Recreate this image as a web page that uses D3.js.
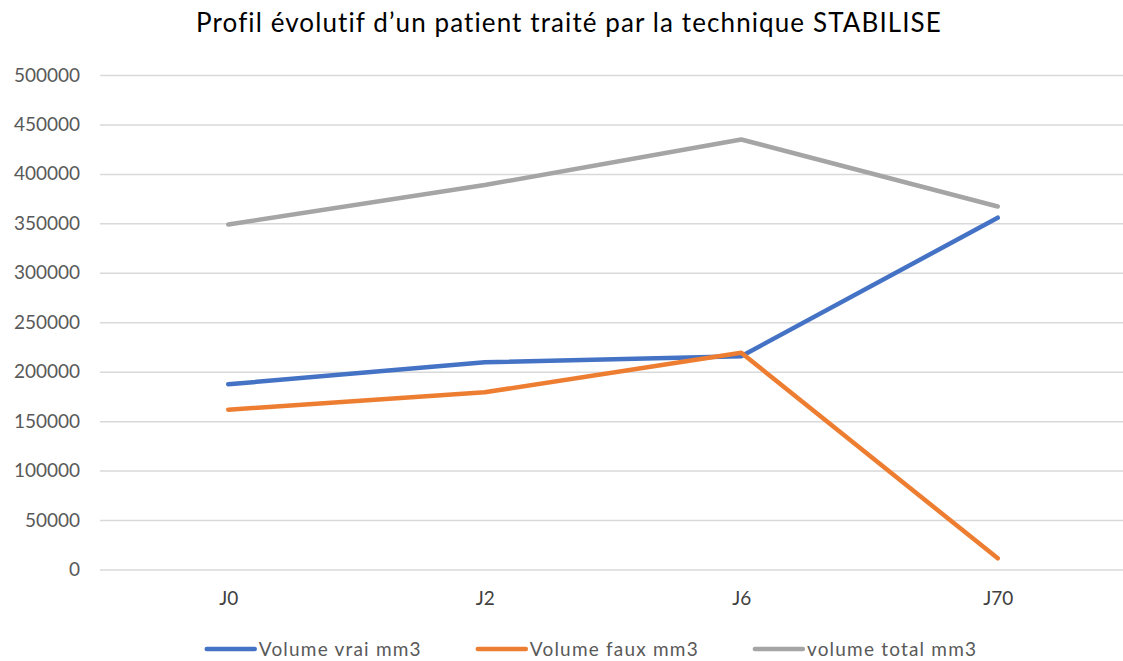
<!DOCTYPE html>
<html>
<head>
<meta charset="utf-8">
<script src="https://cdn.jsdelivr.net/npm/d3@7"></script>
<style>
  html, body { margin: 0; padding: 0; background: #fff; }
  svg { display: block; }
  text { font-family: Lato, "Noto Sans", sans-serif; }
</style>
</head>
<body>
<script>
// Chart data
const categories = ["J0", "J2", "J6", "J70"];
const volumeVrai = [187300, 209500, 215600, 355700];
const volumeFaux = [161600, 179200, 219200, 11300];
const volumeTotal = [348900, 388700, 434800, 367000];
const seriesNames = ["Volume vrai mm3", "Volume faux mm3", "volume total mm3"];
const seriesColors = ["#4472C4", "#ED7D31", "#A5A5A5"];
const yTicks = [0, 50000, 100000, 150000, 200000, 250000, 300000, 350000, 400000, 450000, 500000];
const titleText = "Profil évolutif d\u2019un patient traité par la technique STABILISE";

const W = 1123, H = 661;
const margin = { left: 100, right: -3, top: 75, bottom: 91.5 };

const svg = d3.select("body").append("svg").attr("width", W).attr("height", H);

const x = d3.scalePoint()
  .domain(categories)
  .range([margin.left, W - margin.right])
  .padding(0.5);

const y = d3.scaleLinear()
  .domain([0, 500000])
  .range([H - margin.bottom, margin.top]);

// Title
svg.append("text")
  .attr("x", 569).attr("y", 32)
  .attr("text-anchor", "middle")
  .attr("font-size", 26)
  .attr("letter-spacing", 1.1)
  .attr("fill", "#000")
  .text(titleText);

// Horizontal gridlines + value labels
const yAxis = d3.axisLeft(y)
  .tickValues(yTicks)
  .tickSize(-(W - margin.left))
  .tickPadding(20)
  .tickFormat(d3.format("d"));

const gy = svg.append("g")
  .attr("transform", `translate(${margin.left},0)`)
  .call(yAxis);
gy.select(".domain").remove();
gy.selectAll(".tick line").attr("stroke", "#d9d9d9").attr("stroke-width", 1.5);
gy.selectAll(".tick text")
  .attr("fill", "#595959")
  .attr("font-size", 19)
  .attr("font-family", "Lato, 'Noto Sans', sans-serif");

// Category labels
const xAxis = d3.axisBottom(x).tickSize(0).tickPadding(22);
const gx = svg.append("g")
  .attr("transform", `translate(0,${y(0)})`)
  .call(xAxis);
gx.select(".domain").remove();
gx.selectAll(".tick text")
  .attr("fill", "#404040")
  .attr("font-size", 19)
  .attr("font-family", "Lato, 'Noto Sans', sans-serif");

// Series lines
const series = [volumeVrai, volumeFaux, volumeTotal];
const line = d3.line()
  .x((d, i) => x(categories[i]))
  .y(d => y(d));

// total drawn first, then the two component volumes on top
[2, 0, 1].forEach(k => {
  svg.append("path")
    .datum(series[k])
    .attr("d", line)
    .attr("fill", "none")
    .attr("stroke", seriesColors[k])
    .attr("stroke-width", 4.5)
    .attr("stroke-linecap", "round")
    .attr("stroke-linejoin", "round");
});

// Legend
const legend = svg.append("g");
const legendY = 649;
const itemGap = 54;
let cx = 0;
seriesNames.forEach((name, k) => {
  const g = legend.append("g");
  g.append("line")
    .attr("x1", cx + 2).attr("x2", cx + 50)
    .attr("y1", legendY).attr("y2", legendY)
    .attr("stroke", seriesColors[k])
    .attr("stroke-width", 4.5)
    .attr("stroke-linecap", "round");
  const t = g.append("text")
    .attr("x", cx + 54).attr("y", legendY + 6.5)
    .attr("font-size", 19)
    .attr("letter-spacing", 1.2)
    .attr("fill", "#595959")
    .text(name);
  const w = t.node().getComputedTextLength();
  cx += 54 + w + itemGap;
});
const totalW = cx - itemGap;
legend.attr("transform", `translate(${591 - totalW / 2},0)`);
</script>
</body>
</html>
